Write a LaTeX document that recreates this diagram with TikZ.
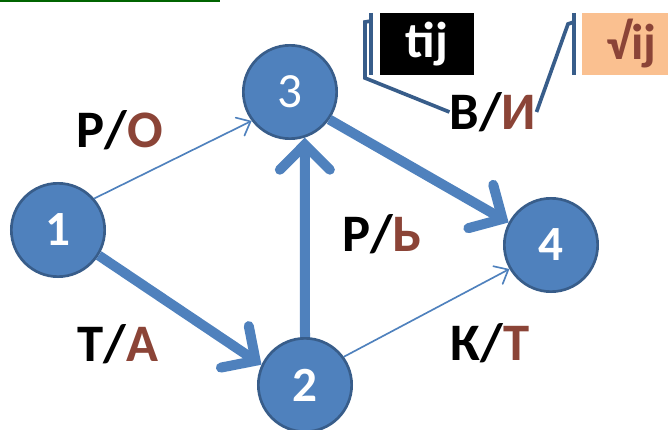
\documentclass[tikz,border=0pt]{standalone}
\usepackage{fontspec}
\setmainfont{Carlito}
\usetikzlibrary{arrows.meta}

\definecolor{nodeblue}{HTML}{4F81BD}
\definecolor{nodeedge}{HTML}{385D8A}
\definecolor{rust}{HTML}{8B4437}
\definecolor{peach}{HTML}{FAC090}
\definecolor{rulegreen}{HTML}{006400}

\begin{document}
\begin{tikzpicture}[
    x=0.03cm, y=-0.03cm,
    vertex/.style={circle, draw=nodeedge, line width=0.08cm, fill=nodeblue, minimum size=2.8cm, inner sep=0pt, text=white, font=\fontsize{42}{42}\selectfont\bfseries},
    heavy/.style={-{Straight Barb[length=0.75cm, width=1.5cm, line cap=round]}, line width=0.3cm, draw=nodeblue},
    light/.style={-{Straight Barb[length=0.35cm, width=0.6cm, line cap=round]}, line width=0.05cm, draw=nodeblue},
    lbl/.style={font=\fontsize{45}{45}\selectfont\bfseries, inner sep=0pt},
    keybox/.style={minimum height=1.86cm, inner sep=0pt, font=\fontsize{43}{43}\selectfont\bfseries},
    callout/.style={line width=0.11cm, draw=nodeedge}
]
    \useasboundingbox (0,0) rectangle (668,430);

    % ================= TOP RULE =================
    \draw[rulegreen, line width=0.06cm] (0,1) -- (220,1);

    % ================= VERTICES =================
    \node[vertex] (n1) at (58, 230) {1};
    \node[vertex] (n2) at (305, 385) {2};
    \node[vertex, font=\fontsize{42}{42}\selectfont] (n3) at (290, 92) {3};
    \node[vertex] (n4) at (551, 245) {4};

    % ================= EDGES =================
    \draw[light] (n1.41) -- (n3.217);
    \draw[heavy] (n1.328) -- (n2.155);
    \draw[heavy] (n2.north) -- (n3.288);
    \draw[heavy] (n3.325) -- (n4.152);
    \draw[light] (n2.36) -- (n4.210);

    % ================= EDGE LABELS =================
    \node[lbl] (l13) at (120, 130) {Р/\textcolor{rust}{О}};
    \node[lbl] (l12) at (118, 344) {Т/\textcolor{rust}{А}};
    \node[lbl] (l23) at (382, 234) {Р/\textcolor{rust}{Ь}};
    \node[lbl] (l24) at (490, 343) {К/\textcolor{rust}{Т}};
    \node[lbl] (l34) at (493, 112) {В/\textcolor{rust}{И}};

    % ================= KEY BOXES =================
    \node[keybox, fill=black, text=white, minimum width=2.8cm] (tbox) at (427, 44) {tij};
    \node[keybox, fill=peach, text=rust, anchor=west, minimum width=2.6cm] (vbox) at (582, 44) {\hspace*{0.35cm}√ij};

    % accent bars beside the boxes
    \draw[callout] (371, 13) -- (371, 75);
    \draw[callout] (574, 13) -- (574, 75);

    % leaders from the label to the boxes
    \coordinate (tbend) at (365, 78);
    \coordinate (ttop) at (365, 22);
    \coordinate (vtop) at (568, 24);
    \draw[callout] (l34.west) -- (tbend) -- (ttop) -- (371, 21);
    \draw[callout] (l34.east) -- (vtop) -- (574, 22);

\end{tikzpicture}
\end{document}
